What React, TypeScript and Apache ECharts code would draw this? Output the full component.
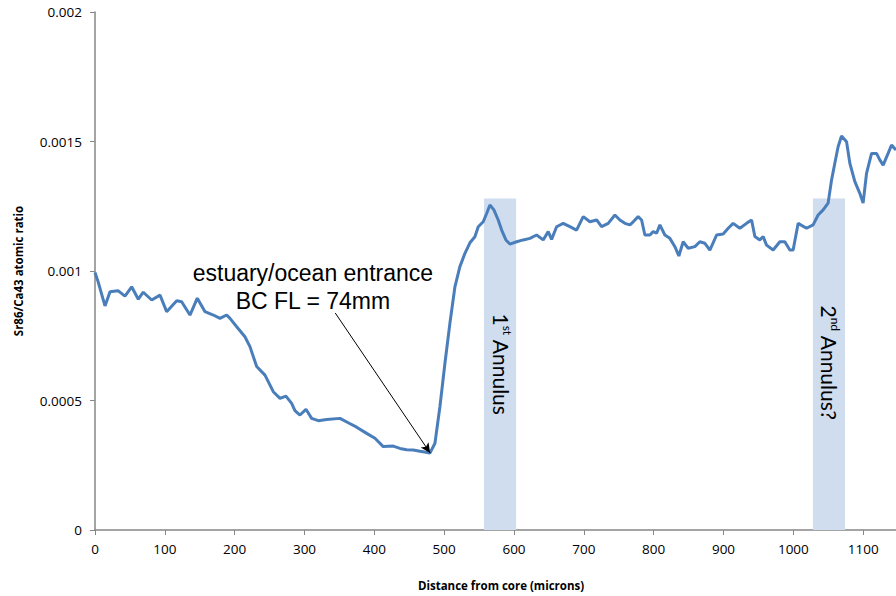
import React, { useEffect, useRef } from "react";
import * as echarts from "echarts";

const distance = [
  0, 4.3, 14.3, 21.5, 32.9, 42.9, 52.5, 62.0, 69.1, 81.2, 93.1, 102.6, 117.0, 124.1, 136.0, 146.5,
  157.5, 169.4, 179.0, 188.5, 193.3, 202.9, 214.7, 221.9, 231.5, 243.4, 255.3, 264.9, 273.4, 281.6,
  286.3, 293.5, 302.1, 310.2, 319.7, 331.7, 350.8, 362.6, 374.7, 389.0, 400.9, 412.7, 427.1, 436.7,
  446.2, 455.7, 465.3, 472.0, 479.6, 486.8, 493.9, 501.1, 508.2, 515.4, 522.5, 529.7, 536.9, 544.0,
  548.8, 555.9, 560.8, 565.5, 571.2, 577.4, 582.3, 588.4, 594.1, 603.7, 613.2, 622.8, 632.4, 641.8,
  649.0, 653.8, 661.0, 670.4, 680.0, 689.6, 699.1, 708.7, 718.3, 725.4, 734.9, 744.5, 751.6, 758.8,
  766.0, 770.7, 777.8, 782.7, 787.4, 794.6, 799.3, 804.2, 808.9, 816.0, 823.2, 830.4, 836.1, 842.2,
  849.4, 859.0, 866.1, 873.3, 880.5, 890.1, 899.5, 906.7, 913.8, 923.4, 933.0, 940.2, 944.9, 952.0,
  956.8, 961.6, 971.1, 980.7, 987.8, 995.0, 999.7, 1006.9, 1018.9, 1028.3, 1035.5, 1042.7, 1049.8,
  1054.7, 1059.4, 1064.1, 1069.0, 1076.2, 1080.9, 1088.1, 1095.2, 1099.9, 1104.8, 1112.0, 1119.1,
  1123.8, 1128.6, 1135.7, 1140.6, 1147.0,
];

const ratio = [
  0.000994, 0.00096, 0.000865, 0.00092, 0.000924, 0.000903, 0.000939, 0.000891, 0.000918, 0.000888,
  0.000907, 0.000843, 0.000885, 0.000881, 0.00083, 0.000895, 0.000843, 0.00083, 0.000817, 0.00083,
  0.000817, 0.000785, 0.000746, 0.000708, 0.000631, 0.000598, 0.000534, 0.000508, 0.000517, 0.000489,
  0.000461, 0.000444, 0.000466, 0.000431, 0.000422, 0.000427, 0.000431, 0.000414, 0.000397, 0.000373,
  0.000354, 0.000322, 0.000324, 0.000315, 0.00031, 0.000309, 0.000304, 0.000301, 0.000297, 0.000335,
  0.000476, 0.000644, 0.000798, 0.000939, 0.001017, 0.001068, 0.001109, 0.001132, 0.001171, 0.00119,
  0.001222, 0.001255, 0.001236, 0.001197, 0.001158, 0.00112, 0.001104, 0.001113, 0.00112, 0.001126,
  0.001139, 0.00112, 0.001152, 0.001122, 0.001171, 0.001184, 0.001171, 0.001158, 0.00121, 0.00119,
  0.001197, 0.001171, 0.001184, 0.001216, 0.001197, 0.001184, 0.001178, 0.00119, 0.00121, 0.001197,
  0.001139, 0.001139, 0.001152, 0.001146, 0.001178, 0.001139, 0.001126, 0.001094, 0.001058, 0.001113,
  0.001088, 0.001094, 0.001113, 0.001107, 0.001081, 0.001139, 0.001143, 0.001165, 0.001184, 0.001165,
  0.001184, 0.001197, 0.001133, 0.00112, 0.001133, 0.0011, 0.001081, 0.001113, 0.001113, 0.001081,
  0.001081, 0.001184, 0.001165, 0.001178, 0.001216, 0.001236, 0.001262, 0.001351, 0.001416, 0.00148,
  0.001521, 0.001499, 0.001416, 0.001345, 0.0013, 0.001262, 0.001377, 0.001454, 0.001454, 0.001429,
  0.001409, 0.001454, 0.001486, 0.001467,
];

// Shaded annulus bands
const bandFrom = [557, 1028];
const bandTo = [603, 1074];
const bandTop = [0.00128, 0.00128];
const bandNumber = ["1", "2"];
const bandOrdinal = ["st", "nd"];
const bandSuffix = [" Annulus", " Annulus?"];

// Arrow annotation (data coordinates)
const arrowStart = [344, 0.000838];
const arrowEnd = [480, 0.000297];
const noteLines = ["estuary/ocean entrance", "BC FL = 74mm"];
const notePos = [[312, 0.000993], [312, 0.000883]];

export default function App() {
  const ref = useRef<HTMLDivElement>(null);

  useEffect(() => {
    const chart = echarts.init(ref.current as HTMLDivElement, null, { renderer: "svg" });
    const seriesData = distance.map((d, i) => [d, ratio[i]]);
    const axisColor = "#868686";
    const tickFont = "Open Sans";
    const bandFont = "Lato";

    chart.setOption({
      animation: false,
      grid: { left: 95, right: 0, top: 12, bottom: 66, containLabel: false },
      xAxis: {
        type: "value",
        min: 0,
        max: 1147,
        interval: 100,
        name: "Distance from core (microns)",
        nameLocation: "middle",
        nameGap: 49,
        nameTextStyle: {
          fontFamily: tickFont,
          fontWeight: "bold",
          fontSize: 11.5,
          color: "#000",
          padding: [0, 0, 0, 11],
        },
        axisLine: { show: true, lineStyle: { color: axisColor, width: 1.5 } },
        axisTick: { show: true, length: 5, lineStyle: { color: axisColor } },
        axisLabel: {
          showMaxLabel: false,
          margin: 12,
          fontFamily: tickFont,
          fontSize: 13.5,
          color: "#000",
          formatter: (v: number) => String(v),
        },
        splitLine: { show: false },
      },
      yAxis: {
        type: "value",
        min: 0,
        max: 0.002,
        interval: 0.0005,
        name: "Sr86/Ca43 atomic ratio",
        nameLocation: "middle",
        nameGap: 71,
        nameTextStyle: { fontFamily: tickFont, fontWeight: "bold", fontSize: 11.5, color: "#000" },
        axisLine: { show: true, lineStyle: { color: axisColor, width: 1.5 } },
        axisTick: { show: true, length: 5, lineStyle: { color: axisColor } },
        axisLabel: {
          margin: 13,
          fontFamily: tickFont,
          fontSize: 13.5,
          color: "#000",
          formatter: (v: number) => String(Math.round(v * 1e6) / 1e6),
        },
        splitLine: { show: false },
      },
      series: [
        {
          type: "line",
          data: seriesData,
          showSymbol: false,
          symbol: "none",
          z: 3,
          lineStyle: { color: "#4a7ebb", width: 3 },
          markArea: {
            silent: true,
            itemStyle: { color: "#d0ddef" },
            data: bandFrom.map((f, i) => [
              { xAxis: f, yAxis: 0 },
              { xAxis: bandTo[i], yAxis: bandTop[i] },
            ]),
          },
          markLine: {
            silent: true,
            symbol: ["none", "arrow"],
            symbolSize: [7, 10],
            label: { show: false },
            lineStyle: { color: "#000", width: 1, type: "solid" },
            data: [[{ coord: arrowStart }, { coord: arrowEnd }]],
          },
        },
      ],
    });

    const graphics: any[] = [];
    bandFrom.forEach((f, i) => {
      const p = chart.convertToPixel({ gridIndex: 0 }, [(f + bandTo[i]) / 2, bandTop[i]]) as number[];
      graphics.push({
        type: "text",
        z: 100,
        zlevel: 0,
        x: p[0] + 1,
        y: p[1] + (i === 0 ? 115 : 107),
        rotation: -Math.PI / 2,
        style: {
          text: `{n|${bandNumber[i]}}{s|${bandOrdinal[i]}}{n|${bandSuffix[i]}}`,
          align: "left",
          verticalAlign: "middle",
          rich: {
            n: { fontFamily: bandFont, fontSize: 21, lineHeight: 24, fill: "#000" },
            s: { fontFamily: bandFont, fontSize: 12, lineHeight: 24, verticalAlign: "top", fill: "#000" },
          },
        },
      });
    });
    noteLines.forEach((t, i) => {
      const p = chart.convertToPixel({ gridIndex: 0 }, notePos[i]) as number[];
      graphics.push({
        type: "text",
        z: 100,
        x: p[0],
        y: p[1],
        style: {
          text: t,
          align: "center",
          verticalAlign: "middle",
          fontFamily: "Liberation Sans",
          fontSize: 23,
          fill: "#000",
        },
      });
    });
    chart.setOption({ graphic: graphics });

    return () => chart.dispose();
  }, []);

  return (
    <div
      ref={ref}
      style={{ position: "fixed", left: 0, top: 0, width: 896, height: 596, background: "#fff" }}
    />
  );
}
